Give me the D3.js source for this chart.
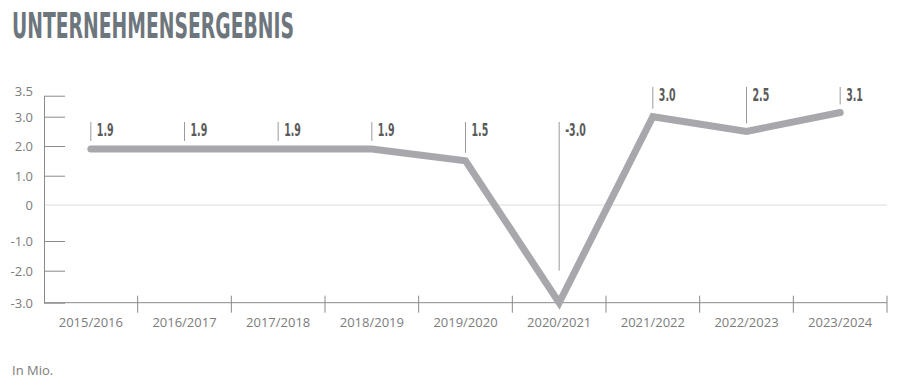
<!DOCTYPE html>
<html>
<head>
<meta charset="utf-8">
<script src="https://cdn.jsdelivr.net/npm/d3@7"></script>
<style>
  body { margin: 0; background: #fff; }
  svg { display: block; }
</style>
</head>
<body>
<div id="chart"></div>
<script>
// data
var years = ['2015/2016', '2016/2017', '2017/2018', '2018/2019', '2019/2020',
             '2020/2021', '2021/2022', '2022/2023', '2023/2024'];
var values = [1.9, 1.9, 1.9, 1.9, 1.5, -3.0, 3.0, 2.5, 3.1];
var valueLabels = ['1.9', '1.9', '1.9', '1.9', '1.5', '-3.0', '3.0', '2.5', '3.1'];
var yTicks = [-3, -2, -1, 0, 1, 2, 3, 3.5];

var w = 900,
    h = 389;

var svg = d3.select('#chart')
	.append('svg')
	.attr('width', w)
	.attr('height', h);

// the printed axis is not evenly spaced, so follow its tick positions
var y = d3.scaleLinear()
	.domain(yTicks)
	.range([302.7, 270.7, 241, 205, 175.7, 146, 116.7, 95.7]);

var x = d3.scaleBand()
	.domain(years)
	.range([44, 887])
	.padding(0);

var axisCol = '#8a8a8a',
    textCol = '#7c7c7c',
    lineCol = '#a8a7ab';

// title
svg.append('text')
	.attr('x', 12)
	.attr('y', 38)
	.attr('textLength', 282)
	.attr('lengthAdjust', 'spacingAndGlyphs')
	.style('font-family', '"DejaVu Sans Condensed", sans-serif')
	.style('font-weight', 'bold')
	.style('font-size', '35px')
	.style('fill', '#6e767d')
	.text('UNTERNEHMENSERGEBNIS');

// zero line
svg.append('line')
	.attr('x1', 44)
	.attr('x2', 887)
	.attr('y1', y(0))
	.attr('y2', y(0))
	.style('stroke', '#dcdcdc')
	.style('stroke-width', 1);

// y axis
var yAxis = svg.append('g')
	.attr('transform', 'translate(44,0)')
	.call(d3.axisLeft(y)
		.tickValues(yTicks)
		.tickSizeInner(-21)
		.tickSizeOuter(0)
		.tickPadding(11)
		.tickFormat(function(d) { return d === 0 ? '0' : d.toFixed(1); }));

yAxis.select('.domain').style('stroke', axisCol);
yAxis.selectAll('.tick line')
	.style('stroke', axisCol)
	.style('display', function(d) { return d === 0 ? 'none' : null; });
yAxis.selectAll('.tick text')
	.style('font-family', '"Open Sans", Lato, sans-serif')
	.style('font-size', '13px')
	.style('fill', textCol)
	.attr('dy', function(d) { return d === 3.5 ? '-0.05em' : '0.35em'; });

// x axis
var xBase = y(-3);
svg.append('line')
	.attr('x1', 44)
	.attr('x2', 887)
	.attr('y1', xBase)
	.attr('y2', xBase)
	.style('stroke', axisCol);

svg.selectAll('.xtick')
	.data(years.slice(1).concat(['end']))
	.enter()
	.append('line')
	.attr('class', 'xtick')
	.attr('x1', function(d) { return d === 'end' ? x.range()[1] : x(d); })
	.attr('x2', function(d) { return d === 'end' ? x.range()[1] : x(d); })
	.attr('y1', xBase - 7)
	.attr('y2', xBase + 10)
	.style('stroke', axisCol);

svg.selectAll('.xlabel')
	.data(years)
	.enter()
	.append('text')
	.attr('class', 'xlabel')
	.attr('x', function(d) { return x(d) + x.bandwidth() / 2; })
	.attr('y', 327)
	.attr('text-anchor', 'middle')
	.style('font-family', '"Open Sans", Lato, sans-serif')
	.style('font-size', '13px')
	.style('fill', textCol)
	.text(function(d) { return d; });

// the line
var line = d3.line()
	.x(function(d, i) { return x(years[i]) + x.bandwidth() / 2; })
	.y(function(d) { return y(d); });

svg.append('path')
	.datum(values)
	.attr('d', line)
	.style('fill', 'none')
	.style('stroke', lineCol)
	.style('stroke-width', 7)
	.style('stroke-linecap', 'round');

// value markers and labels, high values sit on an upper row
function rowTop(v) { return v > 2.2 ? 87 : 122; }

svg.selectAll('.marker')
	.data(values)
	.enter()
	.append('line')
	.attr('class', 'marker')
	.attr('x1', function(d, i) { return x(years[i]) + x.bandwidth() / 2; })
	.attr('x2', function(d, i) { return x(years[i]) + x.bandwidth() / 2; })
	.attr('y1', function(d) { return rowTop(d); })
	.attr('y2', function(d) { return d < -2 ? y(d) - 32 : y(d) - 8; })
	.style('stroke', '#9a9a9a')
	.style('stroke-width', 1);

// condensed look: squeeze the label horizontally
svg.selectAll('.vlabel')
	.data(values)
	.enter()
	.append('text')
	.attr('class', 'vlabel')
	.attr('transform', function(d, i) {
		return 'translate(' + (x(years[i]) + x.bandwidth() / 2 + 6) + ',' + (rowTop(d) + 14) + ') scale(0.62,1)';
	})
	.style('font-family', '"DejaVu Sans Condensed", sans-serif')
	.style('font-weight', 'bold')
	.style('font-size', '17px')
	.style('fill', '#5a5a5a')
	.text(function(d, i) { return valueLabels[i]; });

// unit note
svg.append('text')
	.attr('x', 12)
	.attr('y', 375)
	.style('font-family', '"Open Sans", Lato, sans-serif')
	.style('font-size', '13px')
	.style('fill', textCol)
	.text('In Mio.');
</script>
</body>
</html>
